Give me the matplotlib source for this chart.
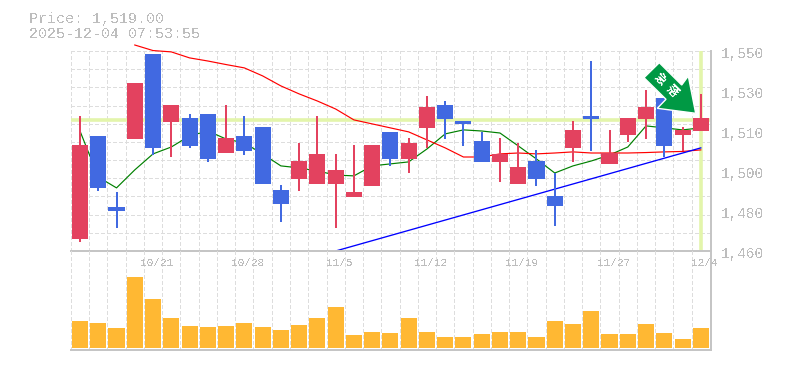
#! /usr/bin/env python
"""
daily candles with moving averages and volume
"""
import numpy as np
import matplotlib
matplotlib.use('Agg')
import matplotlib.pyplot as plt
from matplotlib.patches import Polygon
from matplotlib.transforms import Affine2D

# open/close: red when close > open
highs = [1520.8, 1511.8, 1486.6, 1535.6, 1548.6, 1525.7, 1521.7, 1521.7, 1525.7, 1520.8, 1515.8, 1489.7,
         1508.6, 1520.8, 1503.7, 1507.7, 1507.7, 1513.6, 1510.9, 1529.8, 1527.5, 1518.5, 1513.6, 1510.9,
         1508.6, 1505.5, 1495.1, 1518.5, 1545.5, 1514.5, 1519.9, 1532.5, 1528.9, 1515.8, 1530.7]
opens = [1465.4, 1511.8, 1479.8, 1510.4, 1548.6, 1518.0, 1519.9, 1521.7, 1504.1, 1511.8, 1515.8, 1487.5,
         1492.4, 1490.2, 1490.2, 1484.3, 1489.3, 1513.6, 1501.4, 1515.4, 1525.7, 1518.5, 1509.5, 1500.0,
         1490.2, 1500.5, 1484.8, 1506.4, 1520.8, 1499.2, 1512.2, 1519.4, 1528.9, 1512.2, 1514.0]
closes = [1507.7, 1488.4, 1478.0, 1535.6, 1506.4, 1525.7, 1507.3, 1501.4, 1510.9, 1505.0, 1490.2, 1481.2,
          1500.5, 1503.7, 1496.5, 1486.6, 1507.7, 1501.4, 1508.6, 1524.8, 1519.4, 1517.2, 1500.0, 1503.7,
          1497.8, 1492.4, 1480.3, 1514.5, 1519.4, 1504.1, 1519.9, 1524.8, 1507.3, 1514.5, 1519.9]
lows = [1464.0, 1487.0, 1470.4, 1510.4, 1503.2, 1502.3, 1506.4, 1500.0, 1504.1, 1503.2, 1490.2, 1473.1,
        1487.0, 1490.2, 1470.4, 1484.3, 1489.3, 1498.3, 1495.1, 1506.4, 1510.4, 1507.3, 1500.0, 1491.1,
        1490.2, 1489.3, 1471.3, 1500.0, 1505.0, 1499.2, 1509.1, 1510.4, 1502.3, 1505.0, 1514.0]
volumes = [27, 25, 20, 71, 49, 30, 22, 21, 22, 25, 21, 18, 23, 30, 41, 13, 16, 15,
           30, 16, 11, 11, 14, 16, 16, 11, 27, 24, 37, 14, 14, 24, 15, 9, 20]

ma_short = [1514.0, 1493.3, 1488.4, 1496.5, 1503.7, 1506.8, 1511.8, 1514.0, 1510.4, 1508.6, 1503.7, 1498.3,
            1497.4, 1496.0, 1494.2, 1493.8, 1498.3, 1499.2, 1500.1, 1505.9, 1512.7, 1514.5, 1514.0, 1513.1,
            1507.3, 1501.4, 1495.1, 1498.3, 1500.5, 1503.2, 1506.8, 1516.3, 1515.4, 1514.5, 1515.4]
# starts at the fourth candle
ma_long = [1552.7, 1550.2, 1549.6, 1546.9, 1545.5, 1543.9, 1542.4, 1538.8, 1534.3, 1530.7, 1527.5, 1523.9,
           1519.0, 1517.2, 1515.4, 1513.6, 1510.0, 1506.4, 1502.3, 1502.3, 1503.7, 1504.1, 1503.7, 1504.1,
           1504.6, 1504.1, 1504.1, 1504.1, 1504.3, 1504.6, 1504.8, 1505.5]
trend_idx = [14, 34]
trend_val = [1460.0, 1506.4]

price = 1519.00
stamp = '2025-12-04 07:53:55'
date_idx = [4, 9, 14, 19, 24, 29, 34]
date_labels = ['10/21', '10/28', '11/5', '11/12', '11/19', '11/27', '12/4']
price_ticks = [1460, 1478, 1496, 1514, 1532, 1550]

RED = '#e3425f'
BLUE = '#4169e1'
GRID = '#dddddd'
EDGE = '#c4c4c4'
TXT = '#bdbdbd'
LIME = '#e3f5ab'
W, H = 785, 370

plt.rcParams['font.family'] = ['Liberation Mono', 'Noto Sans CJK JP', 'DejaVu Sans']
plt.rcParams['text.antialiased'] = False

fig = plt.figure(figsize=(W / 100, H / 100), dpi=100)
L, R = 70.5, 710.5
ax = fig.add_axes([L / W, 1 - 251 / H, (R - L) / W, 200 / H])
vax = fig.add_axes([L / W, 1 - 350 / H, (R - L) / W, 99 / H])

n = len(closes)
idx = np.arange(n)

for a in (ax, vax):
    a.set_xlim(-0.52, n - 0.47)
    a.set_xticks(idx - 0.5)
    a.xaxis.grid(True, color=GRID, ls=(0, (3, 2.5)), lw=0.72, antialiased=False)
    a.set_axisbelow(True)
    a.tick_params(length=0, labelbottom=False, labelleft=False)
    a.spines['top'].set_visible(False)
    a.spines['left'].set_visible(False)
    a.spines['right'].set_color(EDGE)
    a.spines['bottom'].set_color(EDGE)
    a.spines['right'].set_linewidth(1.4)
    a.spines['bottom'].set_linewidth(1.4)
    a.patch.set_alpha(0)

ax.set_ylim(1460, 1550)
ax.set_yticks(np.linspace(1460, 1550, 12))
ax.yaxis.grid(True, color=GRID, ls=(0, (3, 2.5)), lw=0.72, antialiased=False)

# last price markers
ax.axhline(price, color=LIME, lw=2.6, zorder=1.2)
ax.axvline(idx[-1], color=LIME, lw=2.6, zorder=1.2)

# moving averages sit behind the candles
ax.plot(idx, ma_short, color='#008000', lw=0.85, zorder=1.5)
ax.plot(idx[3:], ma_long, color='#ff0000', lw=0.85, zorder=1.5, clip_on=False)
ax.plot(trend_idx, trend_val, color='#0000ff', lw=0.95, zorder=1.5)

for i in idx:
    c = RED if closes[i] >= opens[i] else BLUE
    ax.vlines(i, lows[i], highs[i], color=c, lw=1.3, zorder=2, antialiased=False)
    ax.bar(i, abs(closes[i] - opens[i]), bottom=min(opens[i], closes[i]), width=0.88,
           color=c, zorder=3, antialiased=False)

vax.set_ylim(-2, 97)
vax.set_yticks([])
vax.bar(idx, volumes, width=0.88, color='#ffb833', zorder=3, antialiased=False)

# axis text
for t in price_ticks:
    ax.annotate(f'{round(t, -1):,}', (1, t), xycoords=ax.get_yaxis_transform(), xytext=(7.5, -2),
                textcoords='offset points', color=TXT, fontsize=10.4, va='center', ha='left',
                annotation_clip=False)
for i, s in zip(date_idx, date_labels):
    vax.annotate(s, (i, 1), xycoords=vax.get_xaxis_transform(), xytext=(2.8, -8.5),
                 textcoords='offset points', color=TXT, fontsize=8, va='center', ha='center',
                 annotation_clip=False)

fig.text(29 / W, 1 - 18.5 / H, f'Price: {price:,.2f}', color=TXT, fontsize=10.8, va='center', ha='left')
fig.text(29 / W, 1 - 33.5 / H, stamp, color=TXT, fontsize=10.8, va='center', ha='left')

# callout arrow, drawn in image pixels
to_px = Affine2D().scale(1, -1).translate(0, H)
arrow = Polygon([(659.3, 62.7), (644, 77.7), (666, 99.3), (657.3, 108.3), (695.7, 113.3), (688.3, 76), (681.7, 85)],
                closed=True, facecolor='#009944', edgecolor='white', lw=1, transform=to_px, zorder=6)
fig.add_artist(arrow)
fig.text(660 / W, 1 - 79 / H, '急', color='white', fontsize=8.5, fontweight='bold', rotation=-45,
         rotation_mode='anchor', ha='center', va='center', zorder=7)
fig.text(672 / W, 1 - 91 / H, '落', color='white', fontsize=8.5, fontweight='bold', rotation=-45,
         rotation_mode='anchor', ha='center', va='center', zorder=7)

fig.savefig('out.png', dpi=100)
